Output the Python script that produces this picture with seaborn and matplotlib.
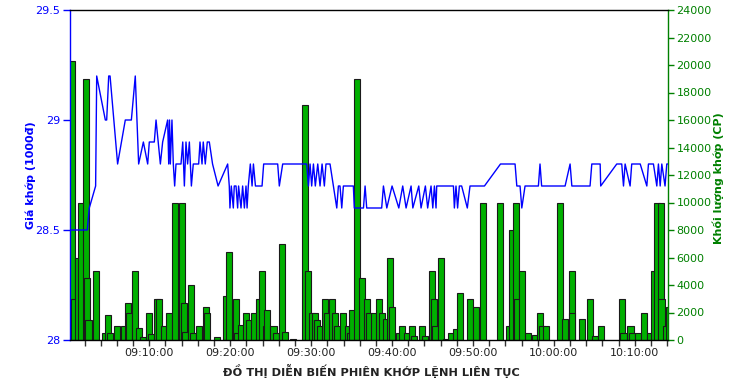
import matplotlib
matplotlib.use("Agg")
import matplotlib.pyplot as plt
import matplotlib.dates as mdates
import seaborn as sns
import pandas as pd

# ---- data ----
vol_times = ["09:00:23", "09:00:45", "09:01:12", "09:01:32", "09:02:13", "09:02:20", "09:02:29",
             "09:03:27", "09:04:31", "09:04:56", "09:05:06", "09:06:02", "09:06:55", "09:07:24",
             "09:07:32", "09:08:16", "09:08:41", "09:09:16", "09:10:01", "09:10:11", "09:10:55",
             "09:11:14", "09:11:47", "09:12:28", "09:13:13", "09:14:02", "09:14:14", "09:14:25",
             "09:15:11", "09:15:24", "09:16:06", "09:17:00", "09:17:06", "09:18:24", "09:19:30",
             "09:19:51", "09:20:42", "09:20:54", "09:21:18", "09:21:57", "09:22:16", "09:22:59",
             "09:23:34", "09:23:58", "09:24:26", "09:24:36", "09:25:21", "09:25:42", "09:26:26",
             "09:26:46", "09:27:48", "09:29:13", "09:29:37", "09:30:04", "09:30:32", "09:30:46",
             "09:31:05", "09:31:46", "09:31:56", "09:32:33", "09:32:54", "09:33:14", "09:33:54",
             "09:34:34", "09:34:45", "09:35:05", "09:35:39", "09:36:20", "09:36:54", "09:37:12",
             "09:37:48", "09:38:26", "09:38:48", "09:39:15", "09:39:47", "09:40:02", "09:40:48",
             "09:41:12", "09:41:54", "09:42:31", "09:42:42", "09:43:45", "09:44:06", "09:44:59",
             "09:45:08", "09:45:18", "09:46:00", "09:46:42", "09:47:18", "09:47:51", "09:48:26",
             "09:49:35", "09:50:19", "09:51:15", "09:53:21", "09:54:26", "09:54:50", "09:55:22",
             "09:55:27", "09:56:06", "09:56:51", "09:57:42", "09:58:16", "09:58:29", "09:59:04",
             "10:00:42", "10:01:22", "10:02:11", "10:02:15", "10:03:29", "10:04:28", "10:05:06",
             "10:05:48", "10:08:28", "10:08:36", "10:09:28", "10:09:42", "10:10:24", "10:11:11",
             "10:11:56", "10:12:24", "10:12:47", "10:13:13", "10:13:18", "10:13:48", "10:14:12"]
volumes = [20300, 3000, 6000, 10000, 19000, 4500, 1450,
           5000, 500, 1800, 500, 1000, 1000, 2700,
           2000, 5000, 850, 200, 2000, 450, 3000,
           3000, 1000, 2000, 10000, 10000, 2700, 600,
           4000, 500, 1000, 2400, 2000, 200, 3200,
           6400, 3000, 500, 1100, 2000, 1450, 2000,
           3000, 5000, 1000, 2200, 1000, 500, 7000,
           600, 60, 17100, 5000, 2000, 2000, 1450,
           1000, 3000, 2000, 3000, 2000, 1000, 2000,
           1000, 500, 2200, 19000, 4500, 3000, 2000,
           2000, 3000, 2000, 1500, 6000, 2400, 500,
           1000, 500, 1000, 300, 1000, 300, 5000,
           3000, 1000, 6000, 60, 500, 800, 3400,
           3000, 2400, 10000, 10000, 1000, 8000, 10000,
           3000, 5000, 500, 350, 2000, 1000, 1000,
           10000, 1500, 5000, 2000, 1500, 3000, 300,
           1000, 3000, 500, 1000, 500, 500, 2000,
           500, 5000, 10000, 10000, 3000, 1000, 2400]

price_times = ["09:00:18", "09:02:20", "09:02:35", "09:03:22", "09:03:30", "09:04:34", "09:04:44",
               "09:04:59", "09:05:09", "09:06:05", "09:07:02", "09:07:47", "09:08:16", "09:08:41",
               "09:09:16", "09:09:48", "09:10:00", "09:10:37", "09:10:50", "09:11:22", "09:11:39",
               "09:12:16", "09:12:24", "09:12:30", "09:12:36", "09:12:48", "09:12:58", "09:13:08",
               "09:13:18", "09:13:55", "09:14:08", "09:14:20", "09:14:32", "09:14:44", "09:14:57",
               "09:15:12", "09:15:26", "09:16:06", "09:16:16", "09:16:31", "09:16:40", "09:16:55",
               "09:17:10", "09:17:25", "09:17:49", "09:18:30", "09:19:41", "09:19:53", "09:19:58",
               "09:20:08", "09:20:23", "09:20:30", "09:20:43", "09:20:55", "09:21:02", "09:21:20",
               "09:21:32", "09:21:45", "09:21:57", "09:22:05", "09:22:14", "09:22:29", "09:22:42",
               "09:22:52", "09:23:07", "09:23:56", "09:24:08", "09:25:52", "09:26:04", "09:26:29",
               "09:29:27", "09:29:40", "09:29:52", "09:30:04", "09:30:17", "09:30:31", "09:30:49",
               "09:31:06", "09:31:21", "09:31:38", "09:31:50", "09:32:20", "09:32:45", "09:33:10",
               "09:33:22", "09:33:34", "09:33:47", "09:33:59", "09:35:13", "09:35:20", "09:36:28",
               "09:36:40", "09:36:52", "09:38:43", "09:38:56", "09:39:21", "09:40:00", "09:40:50",
               "09:41:19", "09:41:44", "09:42:21", "09:42:34", "09:43:18", "09:43:35", "09:44:07",
               "09:44:24", "09:44:49", "09:45:02", "09:45:14", "09:45:26", "09:45:31", "09:47:35",
               "09:47:42", "09:47:54", "09:48:06", "09:48:19", "09:48:36", "09:49:18", "09:49:38",
               "09:51:25", "09:53:24", "09:55:12", "09:55:25", "09:55:49", "09:56:02", "09:56:26",
               "09:56:51", "09:58:05", "09:58:17", "09:58:29", "10:01:23", "10:02:00", "10:02:13",
               "10:04:28", "10:04:41", "10:05:43", "10:05:47", "10:07:46", "10:08:23", "10:08:36",
               "10:08:48", "10:09:25", "10:09:37", "10:10:40", "10:11:29", "10:11:41", "10:12:18",
               "10:12:43", "10:12:55", "10:13:08", "10:13:20", "10:13:44", "10:13:57", "10:14:12"]
prices = [28.5, 28.5, 28.6, 28.7, 29.2, 29.0, 29.0,
          29.2, 29.2, 28.8, 29.0, 29.0, 29.2, 28.8,
          28.9, 28.8, 28.9, 28.9, 29.0, 28.8, 28.9,
          29.0, 28.8, 29.0, 28.8, 29.0, 28.8, 28.7,
          28.8, 28.8, 28.9, 28.7, 28.9, 28.8, 28.9,
          28.7, 28.8, 28.8, 28.9, 28.8, 28.9, 28.8,
          28.9, 28.9, 28.8, 28.7, 28.8, 28.7, 28.6,
          28.7, 28.6, 28.7, 28.7, 28.6, 28.7, 28.6,
          28.7, 28.6, 28.7, 28.6, 28.7, 28.8, 28.7,
          28.8, 28.7, 28.7, 28.8, 28.8, 28.7, 28.8,
          28.8, 28.7, 28.8, 28.7, 28.8, 28.7, 28.8,
          28.7, 28.8, 28.7, 28.8, 28.8, 28.7, 28.6,
          28.7, 28.7, 28.6, 28.7, 28.7, 28.6, 28.6,
          28.7, 28.6, 28.6, 28.7, 28.6, 28.7, 28.6,
          28.7, 28.6, 28.7, 28.6, 28.7, 28.6, 28.7,
          28.6, 28.7, 28.6, 28.7, 28.6, 28.7, 28.7,
          28.6, 28.7, 28.6, 28.7, 28.7, 28.6, 28.7,
          28.7, 28.8, 28.8, 28.7, 28.7, 28.6, 28.7,
          28.7, 28.7, 28.8, 28.7, 28.7, 28.8, 28.7,
          28.7, 28.8, 28.8, 28.7, 28.8, 28.8, 28.7,
          28.8, 28.7, 28.8, 28.8, 28.7, 28.8, 28.8,
          28.7, 28.8, 28.7, 28.8, 28.7, 28.8, 28.8]

price_ticks = [28, 28.5, 29, 29.5]
price_tick_labels = ["28", "28.5", "29", "29.5"]
volume_ticks = list(range(0, 24001, 2000))
title_text = "ĐỒ THỊ DIỄN BIẾN PHIÊN KHỚP LỆNH LIÊN TỤC"
left_label = "Giá khớp (1000đ)"
right_label = "Khối lượng khớp (CP)"

# ---- figure ----
sns.set_theme(style="ticks")
plt.rcParams["font.family"] = ["DejaVu Sans"]

day = "2000-01-01 "
vol_dt = pd.to_datetime([day + t for t in vol_times])
price_df = pd.DataFrame({"time": pd.to_datetime([day + t for t in price_times]),
                         "price": prices})

BLUE = "#0000FF"
GREEN = "#008000"
BAR = "#00B000"

fig = plt.figure(figsize=(7.5, 3.8), dpi=100)
ax = fig.add_axes([70 / 750, 40 / 380, 598 / 750, 330 / 380])
ax2 = ax.twinx()
ax.set_zorder(2)
ax2.set_zorder(1)
ax.patch.set_visible(False)
ax2.patch.set_facecolor("white")

# grid on volume axis (same heights as 28.5 / 29) so it sits under the bars
ax2.set_yticks([8000, 16000], minor=True)
ax2.yaxis.grid(True, which="minor", color="#C0C0C0", linewidth=1)
ax2.set_axisbelow(True)

ax2.bar(vol_dt, volumes, width=0.75 / 1440, color=BAR, edgecolor="#1a1a1a",
        linewidth=0.8, align="center")

sns.lineplot(data=price_df, x="time", y="price", ax=ax, color=BLUE, linewidth=1)

x0 = pd.Timestamp(day + "09:00:12")
x1 = pd.Timestamp(day + "10:14:06")
ax.set_xlim(x0, x1)
ax.set_ylim(28, 29.5)
ax2.set_ylim(0, 24000)

ax.set_yticks(price_ticks)
ax.set_yticklabels(price_tick_labels)
ax2.set_yticks(volume_ticks)
ax2.set_yticklabels([str(v) for v in volume_ticks])

ax.xaxis.set_major_locator(mdates.MinuteLocator(byminute=range(0, 60, 10)))
ax.xaxis.set_minor_locator(mdates.MinuteLocator(byminute=range(0, 60, 2)))
ax.xaxis.set_major_formatter(mdates.DateFormatter("%H:%M:%S"))

ax.tick_params(axis="x", which="both", length=4, width=1, colors="#333333",
               labelcolor="#222222", labelsize=8, pad=2)
ax.tick_params(axis="y", length=5, width=1, colors=BLUE, labelsize=8, pad=2)
ax2.tick_params(axis="y", which="major", length=4, width=1, colors=GREEN, labelsize=8, pad=2)
ax2.tick_params(axis="y", which="minor", length=0)

ax.set_xlabel("")
ax.set_ylabel(left_label, color=BLUE, fontsize=8, fontweight="bold")
ax2.set_ylabel(right_label, color=GREEN, fontsize=8, fontweight="bold")
ax.yaxis.set_label_coords(-0.057, 0.5)
ax2.yaxis.set_label_coords(1.074, 0.49)

for s in ["top", "bottom", "left", "right"]:
    ax.spines[s].set_linewidth(1)
    ax2.spines[s].set_linewidth(1)
ax.spines["right"].set_visible(False)
ax.spines["left"].set_color(BLUE)
ax.spines["top"].set_color("black")
ax.spines["bottom"].set_color("black")
ax2.spines["left"].set_visible(False)
ax2.spines["top"].set_visible(False)
ax2.spines["bottom"].set_visible(False)
ax2.spines["right"].set_color(GREEN)

fig.text(371 / 750, 1 - 371 / 380, title_text, ha="center", va="center",
         fontsize=8.2, fontweight="bold", color="#222222")

fig.savefig("out.png", dpi=100, facecolor="white")
